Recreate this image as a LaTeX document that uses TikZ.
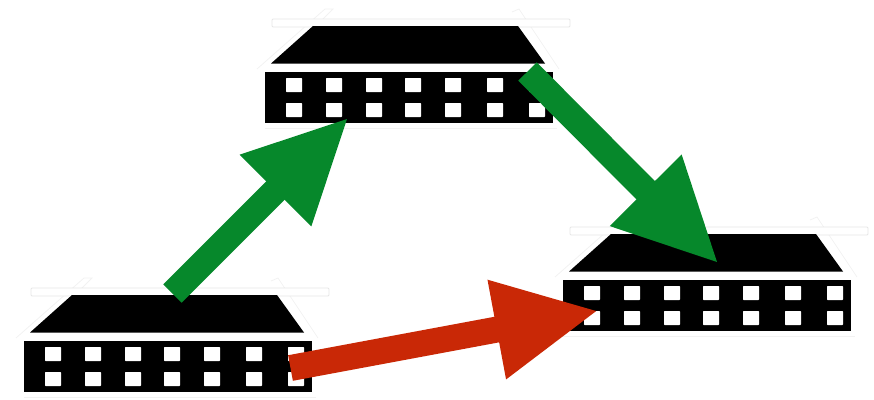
\documentclass[tikz,border=0pt]{standalone}
\usetikzlibrary{arrows.meta}
\definecolor{arrowgreen}{HTML}{06882B}
\definecolor{arrowred}{HTML}{C92806}
\definecolor{halo}{HTML}{E6E6E6}
\definecolor{halolight}{HTML}{F2F2F2}
\tikzset{
  x=1pt,y=-1pt,
  faint/.style={draw=halo,line width=0.8pt,fill=white},
  faintline/.style={draw=halolight,line width=0.8pt},
  flow/.style={line width=26pt,-{Triangle[length=104pt,width=93pt,sep=0pt]}},
  flowgreen/.style={flow,draw=arrowgreen,color=arrowgreen},
  flowred/.style={flow,draw=arrowred,color=arrowred},
  port/.style={fill=white,rounded corners=0.6pt},
  switchicon/.pic={
    % faint outline halo
    \draw[faintline] (16,338) -- (84,278) -- (92,278) -- (78,292);
    \draw[faintline] (271,281) -- (278,278) -- (318,338);
    \draw[faintline] (24,397) -- (316,397);
    \draw[faint,rounded corners=1pt] (31,288) rectangle (329,296);
    % roof and body
    \fill[black] (72,295) -- (277,295) -- (304,332.5) -- (30,332.5) -- cycle;
    \fill[black] (24,341) rectangle (312,392);
    \foreach \px in {53,93,133,172,212,254,296}
      \foreach \py in {354,379}
        \fill[port] (\px-8,\py-7) rectangle (\px+8,\py+7);
  }
}
\begin{document}
\begin{tikzpicture}
\useasboundingbox (0,0) rectangle (874,399);
\pic (swA) at (0,0) {switchicon};
\pic (swB) at (241,-269) {switchicon};
\pic (swC) at (539,-61) {switchicon};
\coordinate (aStart) at (172.5,293.5);
\coordinate (aEnd) at (349,117);
\coordinate (bStart) at (527.5,71.5);
\coordinate (bEnd) at (719,264);
\coordinate (cStart) at (290.5,368);
\coordinate (cEnd) at (599,310.5);
\draw[flowgreen] (aStart) -- (aEnd);
\draw[flowgreen] (bStart) -- (bEnd);
\draw[flowred] (cStart) -- (cEnd);
\end{tikzpicture}
\end{document}
